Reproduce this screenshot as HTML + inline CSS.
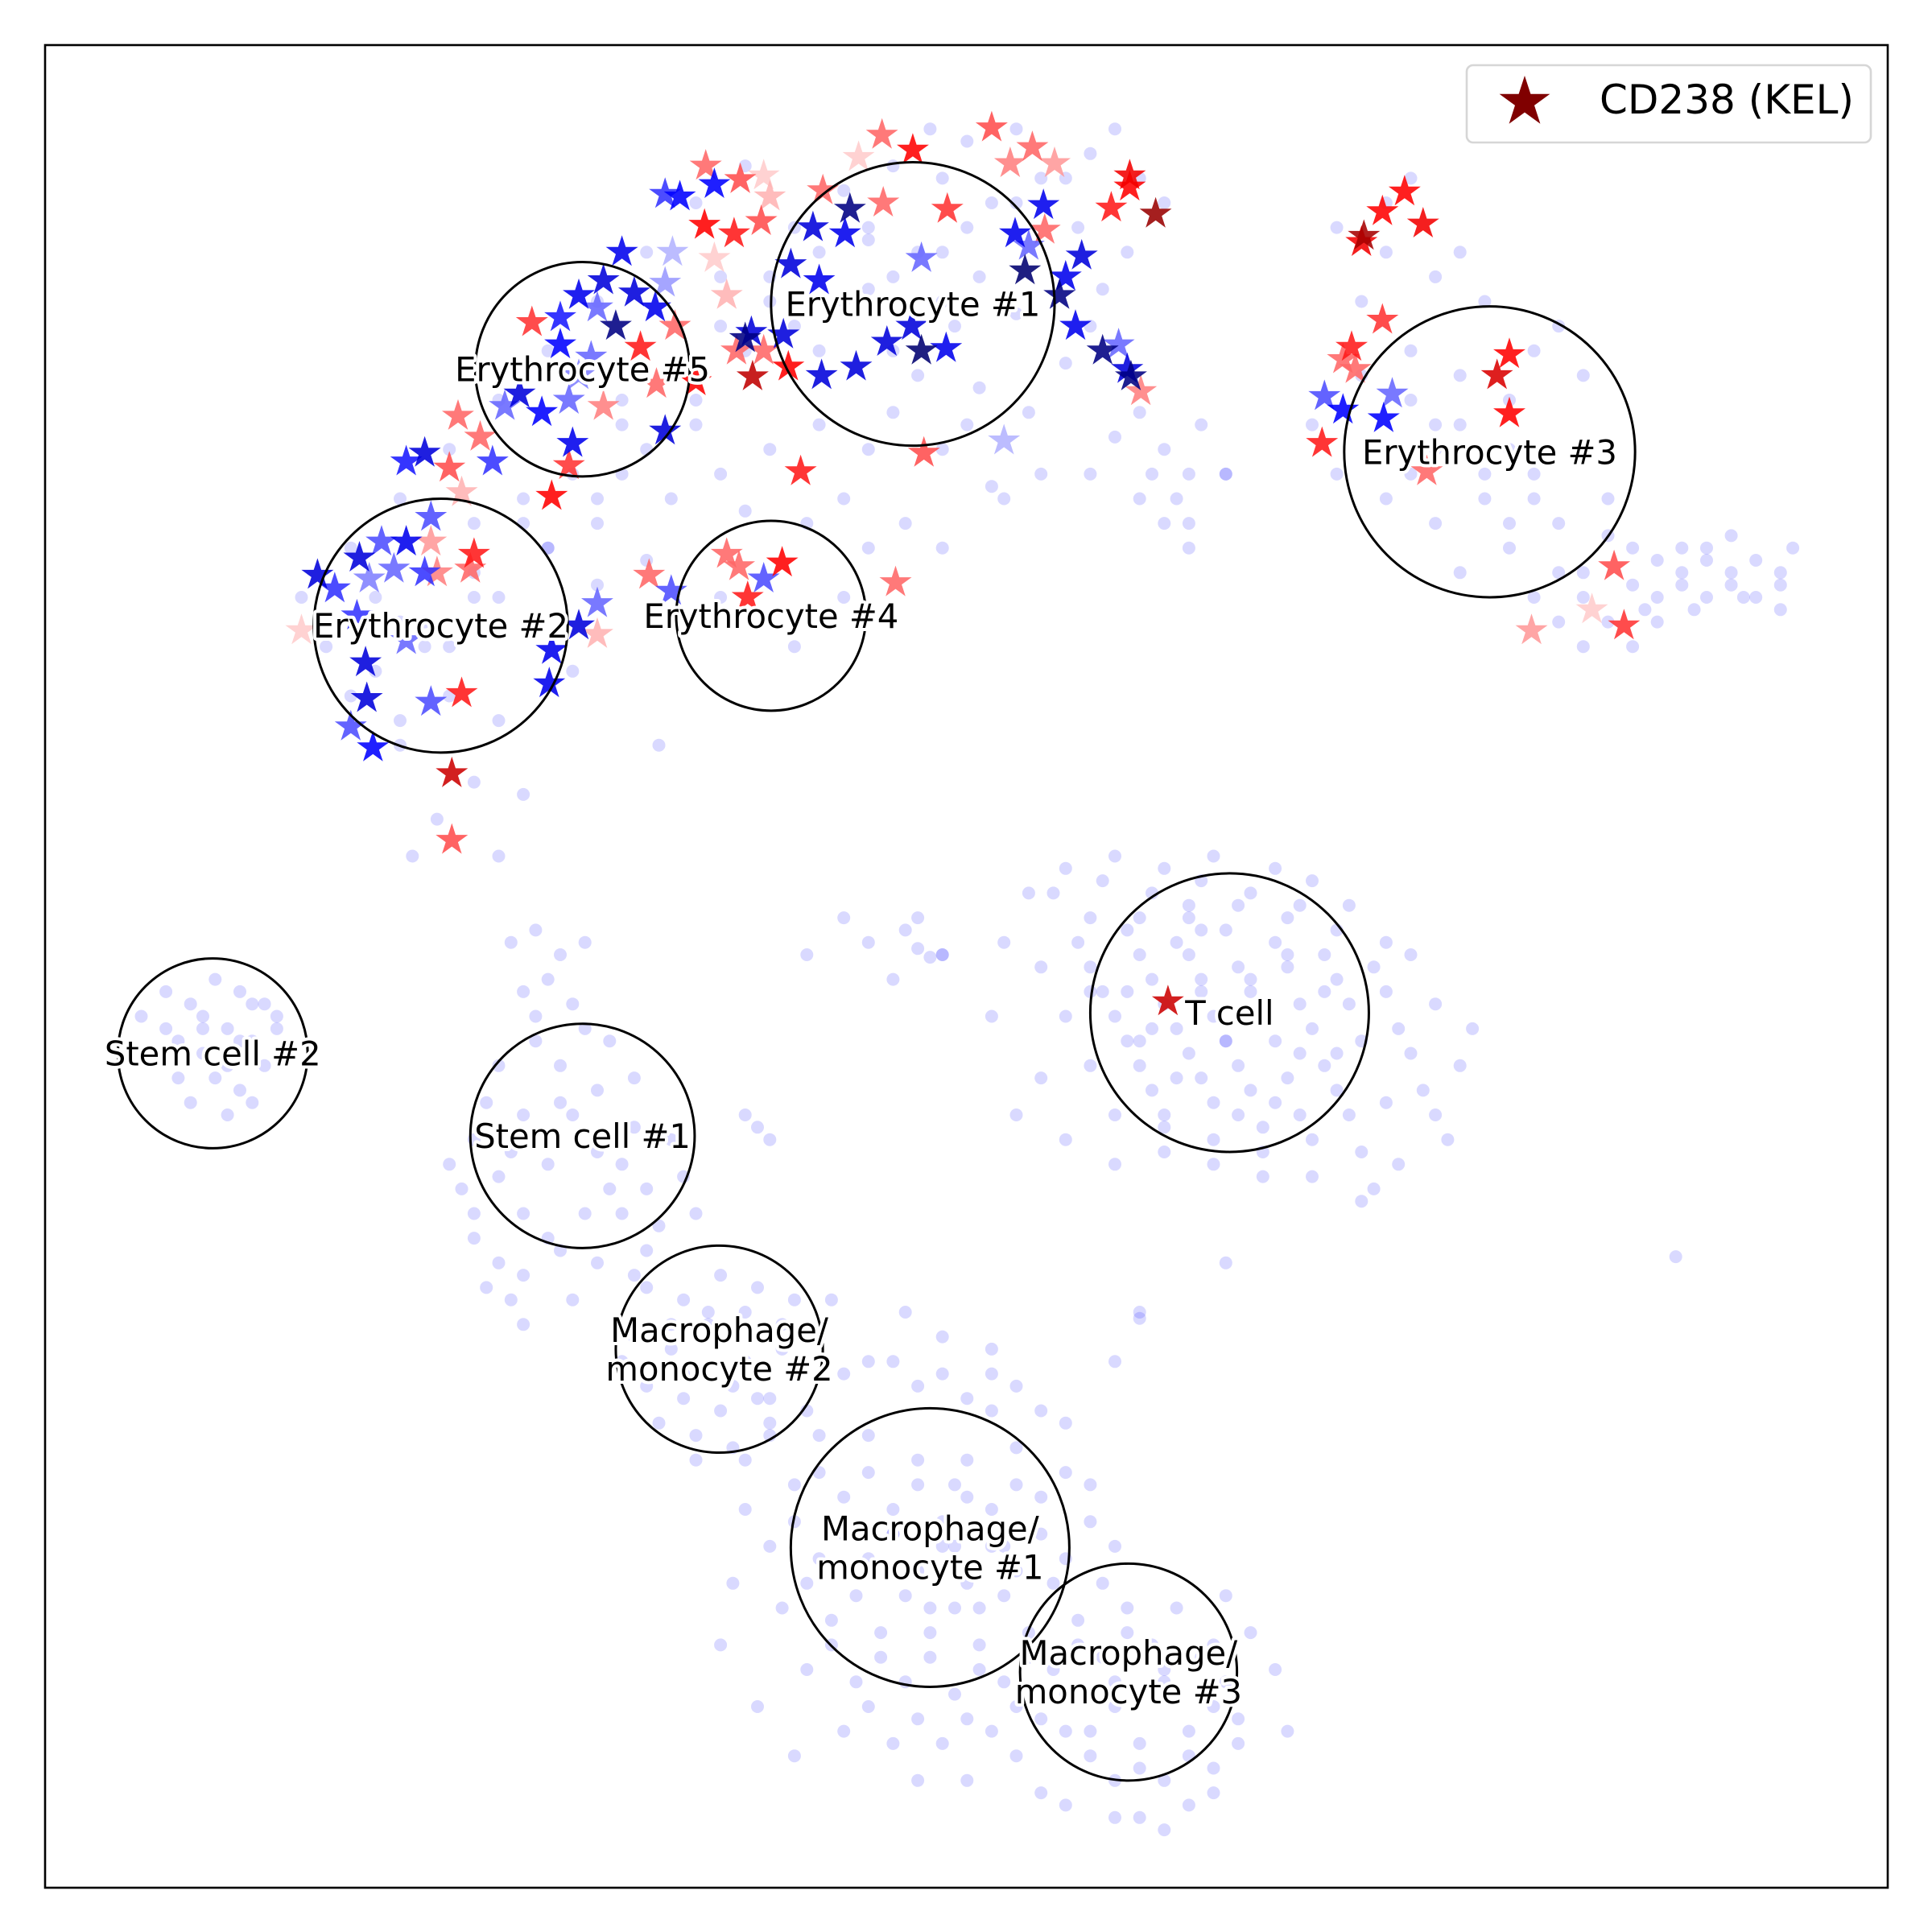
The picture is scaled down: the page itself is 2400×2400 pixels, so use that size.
<!DOCTYPE html>
<html><head><meta charset="utf-8"><style>
html,body{margin:0;padding:0;background:#fff}
svg{display:block}
.lbl{font-family:"DejaVu Sans","Liberation Sans",sans-serif;font-size:41.7px;text-anchor:middle;fill:#000;stroke:#fff;stroke-width:8px;paint-order:stroke;stroke-linejoin:round}
</style></head><body>
<svg id="chart" width="2400" height="2400" viewBox="0 0 2400 2400" xmlns="http://www.w3.org/2000/svg">
<rect x="0" y="0" width="2400" height="2400" fill="#fff"/>
<g id="dots"></g>
<g id="stars"></g>
<g id="circles"></g>
<rect x="56" y="56" width="2289" height="2289" fill="none" stroke="#000" stroke-width="2.6"/>
<g>
<rect x="1822" y="81" width="502" height="96" rx="8" fill="#fff" fill-opacity="0.8" stroke="#d6d6d6" stroke-width="2.6"/>
<path id="legstar" fill="#800000"/>
<text x="1987" y="141" font-family="DejaVu Sans, Liberation Sans, sans-serif" font-size="50" fill="#000">CD238 (KEL)</text>
</g>
</svg>
<script>
// embedding coordinates of background cells [x, y]
const cellX = [-3,0,4,12,10,14,16,6,2,-2,-6,-10,-2,1,4,-1,-8,-6,1,5,8,10,14,16,17,18,15,19,21,12,6,2,-2,-8,-12,-16,-20,-10,-5,-2,3,-8,-13,-18,-24,-28,-22,-30,-26,-20,-14,-10,-30,-35,-32,-38,-40,-43,-45,-38,-36,-46,-50,-52,-54,-50,-46,-42,-38,-34,-30,-26,-22,-18,-14,-20,-24,-28,-36,-40,-44,-42,-46,-48,-25,-40,-34,-12,-16,-8,-4,0,9,13,11,-6,
30,34,38,40,42,46,48,50,44,40,36,32,28,30,34,38,42,46,50,52,48,44,40,46,50,54,56,58,60,62,64,66,60,56,52,48,50,54,58,62,66,44,36,38,32,34,36,21,16,18,
-3,-4,-2,-18,-17,-16,14,14,21,57.5,12,
5,8,12,16,20,25,28,10,14,18,22,26,30,34,6,10,14,18,22,26,30,34,38,8,12,16,20,24,28,32,36,40,10,14,18,22,26,30,34,38,12,16,20,24,28,32,16,20,24,35,3,19,21,17,23,15,27,13,25,19,29,2,-2,-5,31,-6,
-67,-65,-63,-61,-59,-57,-56,-58,-60,-62,-64,-66,-61,-59,-63,-57,-55,-60,-62,-58,
-37,-35,-33,-31,-36,-34,-32,-35,-38,-33,-30,-36,-40,-38,-34,-30,-27,-24,-26,-28,-23,-31,-36,-40,-38,-36,-25,-32,-29,-40,-37,-33,-41,-22,-28,
-26,-23,-20,-17,-14,-27,-24,-21,-18,-15,-26,-23,-20,-17,-14,-22,-19,-16,-13,-28,-25,-12,-11,
-5,-2,2,-8,-4,0,4,-12,-8,-4,0,4,8,-14,-10,-6,-2,2,6,10,-16,-12,-8,-4,0,4,8,12,-15,-11,-7,-3,1,5,9,13,-13,-9,-5,-1,3,7,11,15,-10,-6,-2,2,6,-4,0,4,8,12,16,19,21,10,14,18,22,12,16,20,14,18,23,25,-16,-18,-19,-17,-14,2,-1,-3,1,-6,3,-1,17,21,20,6,26];
const cellY = [68,67,68,68,66,64,62,64,62,64,65,63,58,56,53,52,55,50,47,45,49,52,45,42,38,36,40,44,40,43,40,39,42,42,44,42,40,38,36,34,38,34,36,37,38,40,44,36,33,30,26,30,31,28,24,20,15,12,9,9,14,18,22,26,30,34,38,42,46,50,54,58,62,65,60,56,48,46,38,30,26,22,28,30,18,36,34,50,54,60,48,44,60,58,55,45,
60,58,56,58,54,50,52,48,46,44,46,48,44,40,38,36,38,40,42,38,36,34,32,30,32,34,30,32,34,32,30,32,30,28,28,28,26,26,34,35,29,42,50,42,54,62,64,40,36,40,
0.8,1.5,1,-12,-13,-14,-28,-28.5,-24,-23.5,-32,
6,8,9,8,9,8,7,4,4,5,5,4,3,2,0,0,1,1,0,0,-1,-2,-3,-4,-4,-3,-4,-3,-5,-6,-7,-8,-8,-8,-7,-8,-9,-10,-11,-12,-12,-12,-11,-13,-14,-15,-15,-16,-17,-16,2,-1,-6,-9,-2,-5,-7,-2,-11,3,-2,-4,1,3,-12,-1,
-4,-2,-3,-1,-2,-3,-5,-6,-5,-7,-6,-7,-9,-10,-11,-8,-7,-12,-4,-3,
2,3,1,2,-2,-1,-3,-6,-8,-8,-10,-12,-14,-17,-16,-15,-13,-14,-18,-20,-17,-20,-20,-22,-24,-25,-21,-12,-6,-20,-27,-23,-18,-20,-16,
-26,-27,-25,-26,-27,-30,-31,-29,-32,-31,-34,-35,-36,-35,-33,-38,-39,-38,-36,-32,-37,-30,-27,
-28,-30,-31,-32,-34,-35,-34,-38,-38,-40,-40,-39,-37,-42,-43,-44,-45,-44,-43,-42,-47,-48,-48,-49,-50,-49,-48,-47,-52,-53,-54,-54,-55,-54,-53,-52,-57,-58,-58,-59,-58,-57,-56,-55,-62,-63,-63,-62,-61,-66,-66,-64,-62,-60,-58,-56,-58,-62,-63,-62,-61,-66,-66,-65,-69,-68,-54,-57,-35,-44,-50,-60,-64,-36,-42,-52,-52,-46,-47,-47,-52,-51,-60,-67,-62];
// additional cells (T cell, macrophage, erythrocyte, stem cell regions)
const cellX2 = [7,11,15,19,23,27,31,9,13,17,21,25,29,33,11,15,19,23,27,31,35,13,17,21,25,29,15,19,23,27,37,39,41,36,33,6,4,8,12,16,20,24,28,32,10,14,18,22,26,30,-4,-8,-10,-13,
-10,-6,-2,2,6,-12,-8,-4,0,4,8,-14,-10,-6,-2,2,6,10,-13,-9,-5,-1,3,7,11,-11,-7,-3,1,5,9,13,-8,-4,0,4,8,12,16,20,10,14,18,22,8,12,16,20,-18,-20,
-48,-44,-40,-36,-32,-28,-24,-20,-16,-12,-8,-4,0,4,8,-46,-42,-38,-34,-30,-26,-22,-18,-14,-10,-6,-2,10,14,18,50,54,58,62,66,52,56,60,64,46,42,38,48,44,40,36,55,59,63,67,
-35,-31,-27,-33,-29,-37,-39,-34,-30,-26,-24,-21,-18,-15,-23,-19,-16,-22,-65,-62,-59,-56,-60,-64,-58,-36,-32,-42,-39,-27];
const cellY2 = [6,7,6,7,6,5,5,2,3,2,3,2,1,0,-2,-1,-2,-1,-3,-3,-5,-6,-5,-6,-6,-8,-10,-9,-10,-12,-10,-14,-5,1,-18,-9,-12,-14,-16,-13,-14,-15,-17,-19,-2,-6,4,-12,1,-7,4,2,4,1,
-33,-32,-33,-33,-36,-41,-41,-42,-43,-42,-41,-45,-46,-46,-47,-47,-46,-45,-50,-51,-51,-52,-51,-50,-50,-55,-56,-56,-57,-56,-55,-54,-60,-61,-61,-60,-59,-58,-57,-55,-64,-65,-64,-63,-68,-69,-70,-67,-40,-55,
24,28,32,36,40,44,48,52,56,58,59,58,60,62,64,20,26,30,34,38,42,46,50,52,54,56,54,40,38,34,30,31,31,31,31,35,33,33,33,38,40,44,32,36,48,40,29,29,30,34,
-4,-5,-9,-11,-18,-15,-11,-22,-24,-23,-29,-28,-28,-29,-33,-34,-37,-40,-5,-5,-6,-4,-8,-9,-11,-29,-27,-16,-26,-25];

// CD238 (KEL) expressing cells: position and scaled expression (-1..1)
const starX = [-6.9,-4.4,2,5.3,3.5,7.1,-8.8,13.2,13.2,15.3,11.7,6.2,6.3,-1.6,-6.8,-11.7,-9.5,-12.5,-9.9,-14.3,-12,-3.7,3.9,5,4.7,9.3,8,7.5,8.8,11,12.3,13,13.3,14.1,3,-3.5,-4.5,-6.5,-3.7,-1.7,-9,-11.8,-14.5,-17.4,-16.5,-18,-18.7,-14.9,-17.5,-13.5,-21.2,-18.4,-16.5,-23.3,-24.5,-20.5,-21.3,-18.9,-16.7,-16,-20.5,-19.5,-23.9,-24.5,-28,-29.5,-27,-25.3,-23.7,-26.5,-28.5,-31.5,-33,-35.3,-30,-30.5,-33,-36.3,-34.5,-37.5,-29.5,-32.3,-31.5,-25.2,-22,-24.5,-32,-32.3,-33.7,-41.3,-39.5,-38.5,-42,-44,-45.5,-41,-43.5,-45.5,-47.5,-49.3,-40,-43.5,-44,-46.5,-48.5,-52.7,-51.3,-40.3,-43,-54,-49.5,-48.8,-48.7,-50,-48.2,-43.5,-41,-45.5,-41.8,-41.8,-33.7,-33.9,-30,-30,-31.5,-25.8,-24,-19.5,-18.5,-15,-16.5,-17.8,-5.8,
35.5,33.7,37,32.2,32,33.7,31.2,30.5,31.5,29,30.5,33.8,34.5,28.8,44,43,44,37.3,52.5,50.7,45.8,53.3,16.3];
const starY = [67.5,66.3,68.1,66.5,65.2,65.2,65.7,64.2,63.3,61.1,61.6,61.8,59.8,61.5,62,63,61.5,60,59.5,57,55.7,57.5,59.5,58.5,56.5,57.7,56,54.5,52,50,50.5,48.5,47.9,46.7,42.7,41.7,52,50.7,50,50.2,48.7,48,48.7,47.9,50,51,50,51.3,51.5,40.2,65,63.9,64.2,62.5,62.7,63.5,60.2,59.5,60.5,62.5,57.5,54.5,58,55.5,58,55.7,54.7,53.5,52,50.3,52,54.5,52.7,52.3,53.5,49.5,50.5,46.5,45,45.5,45.5,46,48,47.3,47.5,43.5,42.5,40.7,38.2,44.7,43,41,40.5,41.7,41,38.5,36.5,34.5,34.5,33.2,33.5,34.5,32,32.3,31.5,31.8,30.7,32.3,32,27.3,28.5,24.7,21.8,19.5,17.8,21.5,22.2,26.5,15.7,10.3,25.7,23,29.5,27,27.7,31.8,30.5,33.5,32.5,32.8,31.5,30,31.2,
62.9,61.3,60.3,59.3,58.8,52.5,50.3,49.3,48.5,46.3,45.2,44.5,46.5,42.5,49.7,48,44.9,40.2,32.5,29,27.3,27.7,-2.8];
const starVal = [0.3,0.5,0.35,0.3,0.25,0.2,0.1,0.55,0.5,0.9,0.45,-0.55,0.3,0.4,0.3,0.3,-0.85,-0.6,-0.55,-0.6,-0.55,-0.3,-0.55,-0.3,-0.9,-0.6,-0.55,-0.85,-0.55,-0.85,-0.3,-0.6,-0.85,0.25,-0.15,0.35,-0.6,-0.6,-0.9,-0.55,-0.6,-0.6,0.5,0.75,0.3,-0.85,0.3,-0.6,-0.6,0.45,0.3,0.35,0.1,-0.5,-0.4,-0.5,0.5,0.45,0.35,0.15,0.1,0.15,-0.15,-0.2,-0.55,-0.6,-0.6,-0.55,0.3,0.45,-0.85,-0.55,-0.45,0.4,-0.3,-0.3,-0.5,-0.6,-0.5,-0.3,0.25,-0.3,-0.25,0.3,0.5,-0.6,-0.55,0.4,0.5,0.3,0.3,-0.4,0.35,-0.6,-0.45,0.15,-0.35,-0.55,-0.35,-0.6,0.45,0.2,-0.4,-0.3,-0.25,-0.6,-0.4,0.3,0.25,0.1,-0.4,-0.6,-0.6,-0.35,-0.5,-0.35,0.45,-0.3,0.7,0.35,-0.55,-0.55,-0.3,0.15,-0.6,0.3,-0.35,0.3,0.3,0.5,-0.35,0.45,0.3,
0.5,0.5,0.55,0.85,0.55,0.4,0.45,0.3,0.3,-0.35,-0.5,-0.5,-0.3,0.45,0.5,0.65,0.5,0.3,0.35,0.1,0.2,0.4,0.7];

// cluster annotation circles
const clusterNames = ["Erythrocyte #1","Erythrocyte #5","Erythrocyte #2","Erythrocyte #4","Erythrocyte #3","T cell","Stem cell #2","Stem cell #1","Macrophage/\nmonocyte #2","Macrophage/\nmonocyte #1","Macrophage/\nmonocyte #3"];
const clusterX = [-4.4,-31.2,-42.7,-15.9,42.4,21.3,-61.2,-31.2,-20.1,-3.0,13.1];
const clusterY = [53.8,48.5,27.7,28.5,41.8,-3.7,-7.0,-13.7,-31.0,-47.1,-57.2];
const clusterR = [11.5,8.7,10.3,7.7,11.8,11.3,7.7,9.1,8.4,11.3,8.8];

const NS = "http://www.w3.org/2000/svg";
const X0 = 1201.3, PX = 15.311;
function xs(v){ return X0 + v*PX; }
function ys(v){ return X0 - v*PX; }
function rs(v){ return v*PX; }
function seismic(v){
  let r,g,b;
  if(v<-0.5){ const t=(v+1)/0.5; r=0; g=0; b=0.3+0.7*t; }
  else if(v<0){ const t=(v+0.5)/0.5; r=t; g=t; b=1; }
  else if(v<0.5){ const t=v/0.5; r=1; g=1-t; b=1-t; }
  else { const t=(v-0.5)/0.5; r=1-0.5*t; g=0; b=0; }
  return "rgb("+Math.round(r*255)+","+Math.round(g*255)+","+Math.round(b*255)+")";
}
function starPath(cx,cy,R){
  const ri=R*0.381966; let d="";
  for(let i=0;i<10;i++){
    const a=-Math.PI/2+i*Math.PI/5, rr=i%2?ri:R;
    d+=(i?"L":"M")+(cx+rr*Math.cos(a)).toFixed(1)+","+(cy+rr*Math.sin(a)).toFixed(1);
  }
  return d+"Z";
}
const allX = cellX.concat(cellX2), allY = cellY.concat(cellY2);
const dots=document.getElementById("dots");
for(let i=0;i<allX.length;i++){
  const c=document.createElementNS(NS,"circle");
  c.setAttribute("cx",xs(allX[i]).toFixed(1));
  c.setAttribute("cy",ys(allY[i]).toFixed(1));
  c.setAttribute("r","8");
  c.setAttribute("fill","#0000ff");
  c.setAttribute("fill-opacity","0.15");
  
  
  dots.appendChild(c);
}
const stars=document.getElementById("stars");
const order=starVal.map((v,i)=>i).sort((a,b)=>Math.abs(starVal[a])-Math.abs(starVal[b]));
for(const i of order){
  const p=document.createElementNS(NS,"path");
  p.setAttribute("d",starPath(xs(starX[i]),ys(starY[i]),21));
  p.setAttribute("fill",seismic(starVal[i]));
  p.setAttribute("fill-opacity","0.88");
  
  
  stars.appendChild(p);
}
const circ=document.getElementById("circles");
for(let i=0;i<clusterNames.length;i++){
  const c=document.createElementNS(NS,"circle");
  c.setAttribute("cx",xs(clusterX[i]));
  c.setAttribute("cy",ys(clusterY[i]));
  c.setAttribute("r",rs(clusterR[i]));
  c.setAttribute("fill","none");
  c.setAttribute("stroke","#000");
  c.setAttribute("stroke-width","3");
  
  
  circ.appendChild(c);
  const lines=clusterNames[i].split("\n");
  const t=document.createElementNS(NS,"text");
  t.setAttribute("class","lbl");
  
  
  const cy=ys(clusterY[i]);
  lines.forEach((ln,k)=>{
    const ts=document.createElementNS(NS,"tspan");
    ts.setAttribute("x",xs(clusterX[i]));
    ts.setAttribute("y",(cy+15+(k-(lines.length-1)/2)*48).toFixed(1));
    ts.textContent=ln;
    t.appendChild(ts);
  });
  circ.appendChild(t);
}
document.getElementById("legstar").setAttribute("d",starPath(1894,127,33));
</script>
</body></html>
